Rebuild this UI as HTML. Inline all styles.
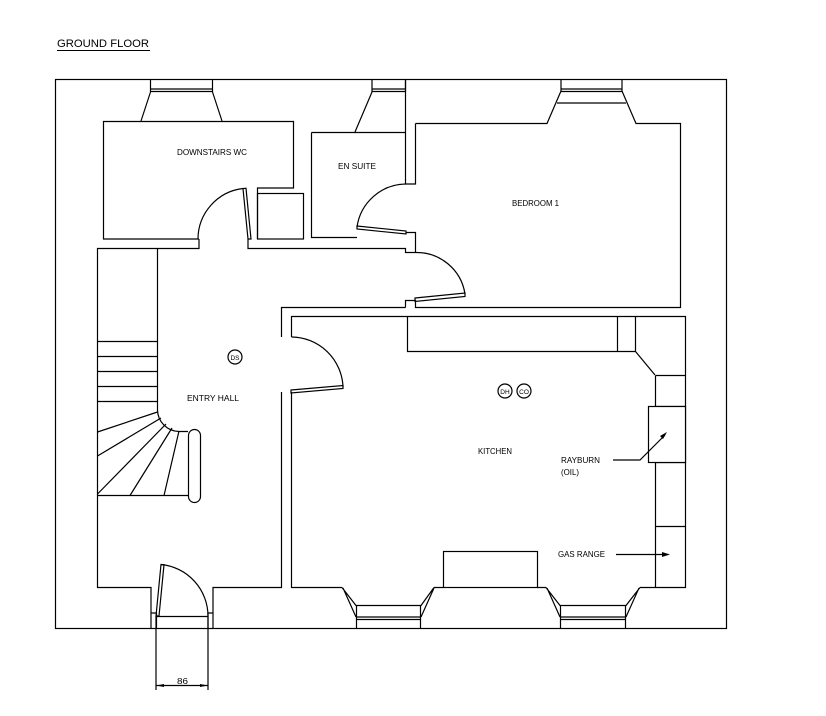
<!DOCTYPE html>
<html><head><meta charset="utf-8"><style>
html,body{margin:0;padding:0;background:#fff;}
svg{display:block;}
text{font-family:"Liberation Sans",sans-serif;fill:#000;}
</style></head><body>
<svg width="826" height="716" viewBox="0 0 826 716" xmlns="http://www.w3.org/2000/svg">
<g fill="none" stroke="#000" stroke-width="1.2">
<!-- outer -->
<rect x="55.5" y="79.5" width="671" height="549"/>
<!-- WC window -->
<path d="M150.5 79.5V92 M212.5 79.5V92 M150.5 89H212.5 M150.5 91.5H212.5 M150.5 92L141 121 M212.5 92L222 121"/>
<!-- WC -->
<path d="M199 239H103.5V121.5H293.5V188H257.5V239"/>
<rect x="257.5" y="193.5" width="46" height="45.5"/>
<!-- WC door -->
<path d="M248 239L243 188.5 L246 188.3 L251 239Z"/>
<path d="M243 188.5A51 51 0 0 0 198 239"/>
<!-- hall top -->
<path d="M199 239V248.5H97.5V587.5H151V628 M248 239V248.5H405.5V252.5H415"/>
<!-- en suite window & walls -->
<path d="M372 79.5V92 M405.5 79.5V92 M372 89H405.5 M372 91.5H405.5 M372 92L355 132"/>
<path d="M405.5 79.5V184 M311.5 132.5H405.5 M311.5 132.5V237.5H357"/>
<path d="M415.5 123.5V184H405.5"/>
<!-- en suite door -->
<path d="M357 226L406 231 L406 234 L357 229Z"/>
<path d="M357 227A50 50 0 0 1 406 184"/>
<path d="M405.5 232.5H415.5V252.5"/>
<!-- bedroom -->
<path d="M415.5 123.5H547L561 91 M622 91L636 123.5H680.5V307.5H415.5V300.5H405.5V307.5"/>
<path d="M561 79.5V91 M622 79.5V91 M561 89H622 M561 91.5H622 M557 103H626"/>
<!-- bedroom door -->
<path d="M415 298L465 293 L465 296.5 L415 301.5Z"/>
<path d="M415 252.5A49 49 0 0 1 465 294"/>
<!-- kitchen walls -->
<path d="M405.5 307.5H281.5V337 M281.5 392V587.5H213V628"/>
<path d="M291.5 337V316.5H685.5V587.5H640 M291.5 392V587.5H342"/>
<path d="M434 587.5H443 M537 587.5H546"/>
<!-- kitchen door -->
<path d="M291 390L343 385.5 L343 388.5 L291 393Z"/>
<path d="M291.5 337A52 52 0 0 1 343 387"/>
<!-- counters -->
<path d="M407.5 316.5V351.5H635.5L655 375 M617.5 316.5V351.5 M635.5 316.5V351.5"/>
<path d="M655.5 375.5H685.5 M655.5 375.5V587.5 M655.5 406.5H685.5 M655.5 462.5H685.5 M655.5 526.5H685.5"/>
<rect x="648.5" y="406.5" width="37" height="56" fill="#fff"/>
<rect x="443.5" y="551.5" width="94" height="36"/>
<!-- kitchen windows -->
<path d="M342 587.5L356 605.5H421L434 587.5 M343 588L356 617 M434 588L421 617 M356.5 605.5V628 M420.5 605.5V628 M356.5 617H420.5 M356.5 619.5H420.5"/>
<path d="M546 587.5L560 605.5H626L640 587.5 M547 588L560 617 M639 588L626 617 M560.5 605.5V628 M625.5 605.5V628 M560.5 617H625.5 M560.5 619.5H625.5"/>
<!-- front door -->
<path d="M151 613H156.5V628 M213 613H208V628 M156 616.5H208"/>
<path d="M156 616L161 564.5 L164 564.7 L159 616Z"/>
<path d="M161 564.5A52 52 0 0 1 208 616"/>
<!-- stairs -->
<path d="M157.5 248.5V410 A22 22 0 0 0 179 431.5H188 M97.5 495.5H188"/>
<path d="M97.5 341.5H157.5 M97.5 356.5H157.5 M97.5 371.5H157.5 M97.5 386.5H157.5 M97.5 401.5H157.5"/>
<path d="M157.5 412L97.5 432 M161 418L97.5 456 M166 424L97.5 494 M172 428L130 495.5 M179 431L164 495.5"/>
<rect x="188.5" y="429.5" width="12" height="73" rx="6"/>
<!-- symbols -->
<circle cx="235" cy="357" r="7"/>
<circle cx="505" cy="391" r="7"/>
<circle cx="524" cy="391" r="7"/>
<!-- leaders -->
<path d="M613 460H640L665 435"/>
<path d="M616 554.5H664"/>
<!-- dimension -->
<path d="M156 616V690 M208 616V690 M156 685.5H208"/>
</g>
<g fill="#000">
<path d="M667 432L660 436 L663 439Z"/>
<path d="M670 554.5L662 552 L662 557Z"/>
<path d="M156 685.5L164 684 L164 687Z M208 685.5L200 684 L200 687Z"/>
</g>
<line x1="57" y1="50.5" x2="150" y2="50.5" stroke="#000" stroke-width="1"/>
<text x="57" y="47" font-size="11" textLength="92" lengthAdjust="spacingAndGlyphs">GROUND FLOOR</text>
<g font-size="8.5">
<text x="177" y="155" textLength="70" lengthAdjust="spacingAndGlyphs">DOWNSTAIRS WC</text>
<text x="338" y="169" textLength="38" lengthAdjust="spacingAndGlyphs">EN SUITE</text>
<text x="512" y="206" textLength="47" lengthAdjust="spacingAndGlyphs">BEDROOM 1</text>
<text x="187" y="401" textLength="52" lengthAdjust="spacingAndGlyphs">ENTRY HALL</text>
<text x="478" y="454" textLength="34" lengthAdjust="spacingAndGlyphs">KITCHEN</text>
<text x="561" y="463" textLength="39" lengthAdjust="spacingAndGlyphs">RAYBURN</text>
<text x="561" y="475" textLength="18" lengthAdjust="spacingAndGlyphs">(OIL)</text>
<text x="558" y="557" textLength="47" lengthAdjust="spacingAndGlyphs">GAS RANGE</text>
<text x="177" y="684" textLength="11" lengthAdjust="spacingAndGlyphs">86</text>
</g>
<g font-size="6.5" text-anchor="middle">
<text x="235" y="360">DS</text>
<text x="505" y="394">DH</text>
<text x="524" y="394">CO</text>
</g>
</svg>
</body></html>
